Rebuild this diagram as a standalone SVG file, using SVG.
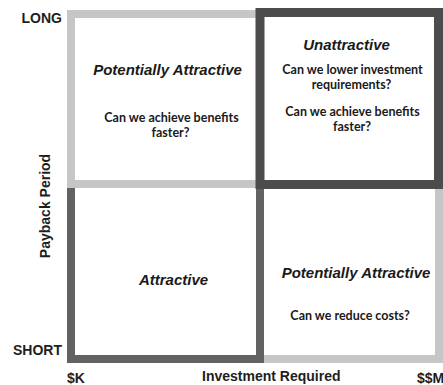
<svg xmlns="http://www.w3.org/2000/svg" width="443" height="385" viewBox="0 0 443 385">
  <style>
    .bg { fill: #ffffff; }
    .light { fill: none; stroke: #c6c6c6; stroke-width: 8; }
    .dark { fill: none; stroke: #4c4c4c; stroke-width: 9; }
    .mid { fill: none; stroke: #626262; stroke-width: 8; }
    .axis { font-family: "Liberation Sans", Arial, sans-serif; font-weight: bold; font-size: 14px; fill: #1e1e1e; }
    .title { font-family: "Liberation Sans", Arial, sans-serif; font-weight: bold; font-style: italic; font-size: 15px; fill: #1a1a1a; text-anchor: middle; }
    .q { font-family: Lato, "Liberation Sans", sans-serif; font-weight: bold; font-size: 12.5px; fill: #1a1a1a; text-anchor: middle; }
  </style>

  <rect class="bg" x="0" y="0" width="443" height="385"/>

  <!-- quadrant frames: light frames first, dark frames drawn over them -->
  <g id="connectors">
    <rect class="light" x="71" y="14" width="189" height="170"/>
    <rect class="light" x="260" y="184" width="179" height="175"/>
    <path class="mid" d="M71,188 V359 H260 V188"/>
    <rect class="dark" x="260" y="12.5" width="178.5" height="172"/>
  </g>

  <!-- axis labels -->
  <g id="axes">
    <text class="axis" x="62" y="23" text-anchor="end">LONG</text>
    <text class="axis" x="62" y="355" text-anchor="end">SHORT</text>
    <text class="axis" transform="translate(50,206) rotate(-90)" text-anchor="middle" font-size="15">Payback Period</text>
    <text class="axis" x="67" y="383">$K</text>
    <text class="axis" x="202" y="381" font-size="15">Investment Required</text>
    <text class="axis" x="417" y="383">$$M</text>
  </g>

  <!-- long payback, low investment -->
  <g id="q-top-left">
    <text class="title" x="167.5" y="75">Potentially Attractive</text>
    <text class="q" x="171.5" y="122">Can we achieve benefits</text>
    <text class="q" x="170.5" y="137">faster?</text>
  </g>

  <!-- long payback, high investment -->
  <g id="q-top-right">
    <text class="title" x="346.5" y="50" font-size="13.5">Unattractive</text>
    <text class="q" x="352.5" y="74">Can we lower investment</text>
    <text class="q" x="351.5" y="89">requirements?</text>
    <text class="q" x="352.5" y="116">Can we achieve benefits</text>
    <text class="q" x="352" y="131">faster?</text>
  </g>

  <!-- short payback, low investment -->
  <g id="q-bottom-left">
    <text class="title" x="173.5" y="285">Attractive</text>
  </g>

  <!-- short payback, high investment -->
  <g id="q-bottom-right">
    <text class="title" x="356" y="278">Potentially Attractive</text>
    <text class="q" x="350" y="320">Can we reduce costs?</text>
  </g>
</svg>
